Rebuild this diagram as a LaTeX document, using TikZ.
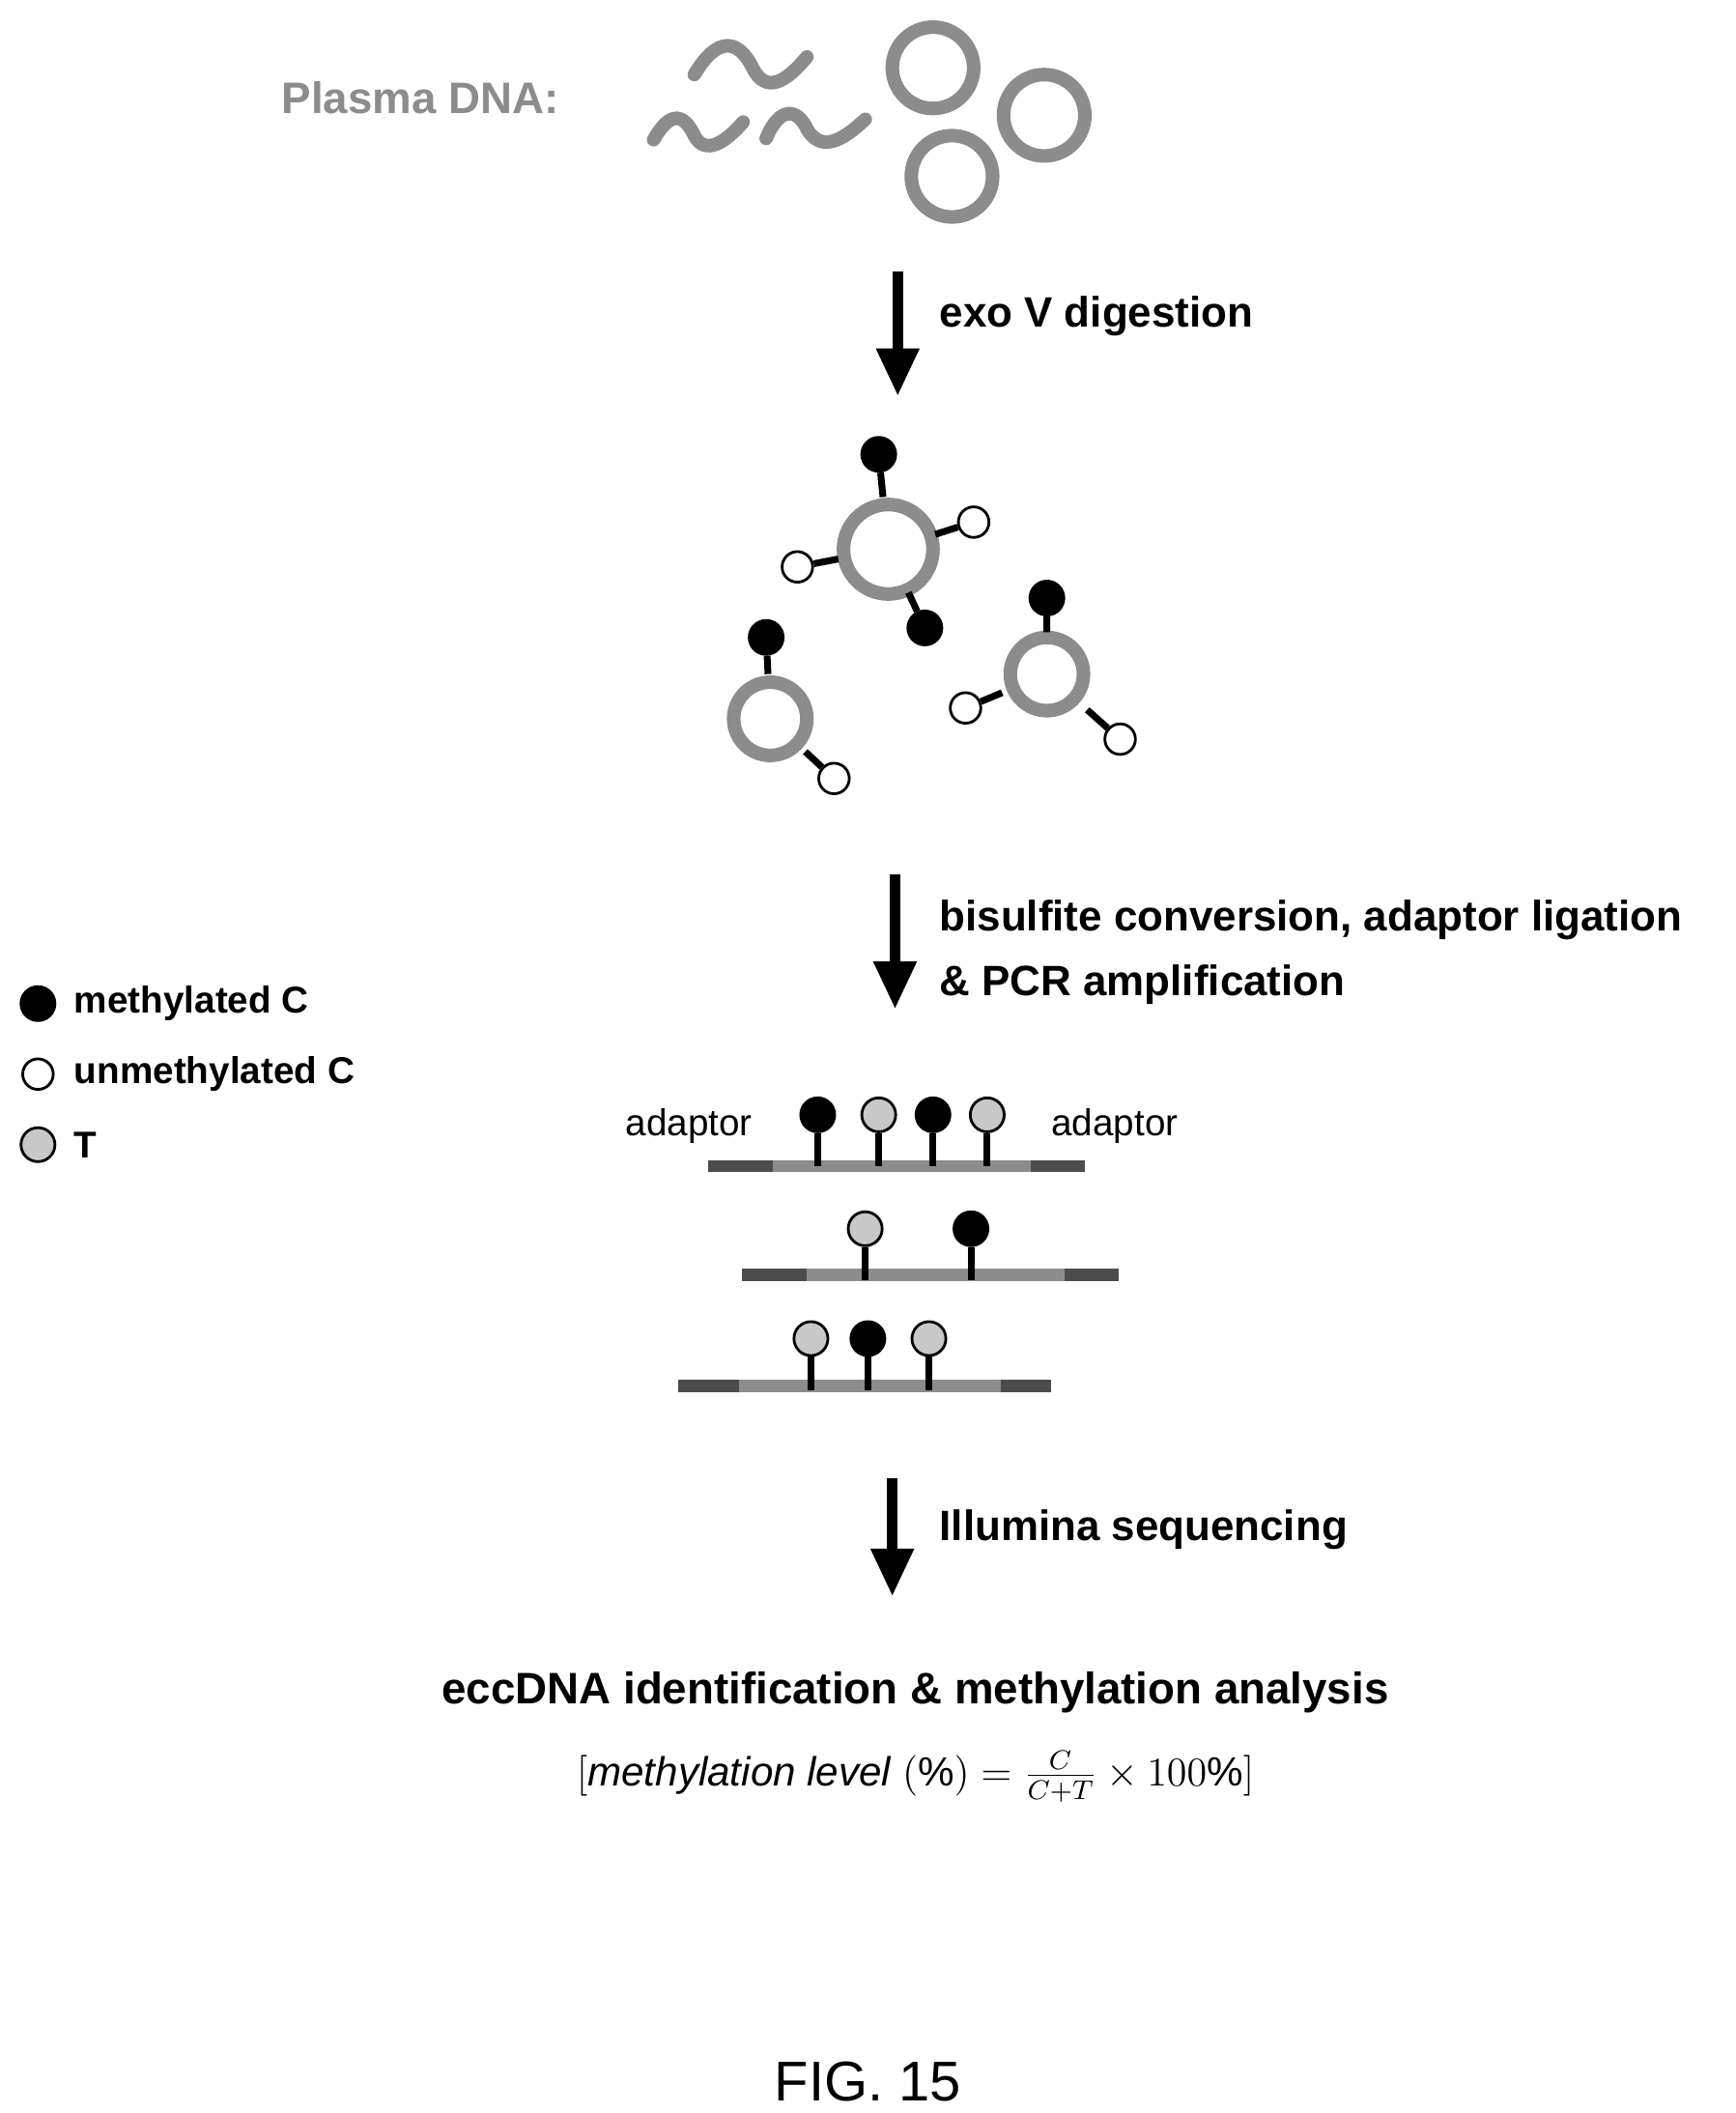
\documentclass[tikz,border=0pt]{standalone}
\usepackage{fontspec}
\setmainfont{Liberation Sans}
\usepackage{amsmath}
\usetikzlibrary{calc,arrows.meta}
\definecolor{dnagray}{RGB}{140,140,140}
\definecolor{tgray}{RGB}{200,200,200}
\begin{document}
\begin{tikzpicture}[x=0.01404cm, y=-0.01404cm, >={Triangle[length=14pt,width=12pt]},
  ring/.style={draw=dnagray, line width=4pt},
  stalk/.style={line width=2pt},
  meth/.style={circle, draw, fill=black, line width=0.8pt, minimum size=10pt, inner sep=0pt},
  unmeth/.style={circle, draw, fill=white, line width=0.8pt, minimum size=9pt, inner sep=0pt},
  tdot/.style={circle, draw, fill=tgray, line width=0.8pt, minimum size=10pt, inner sep=0pt},
  flow/.style={->, line width=3pt}]

\useasboundingbox (0,0) rectangle (1280,1558);

\node [font=\bfseries\fontsize{13}{15}\selectfont, text=dnagray] (plasma) at (310,72) {Plasma DNA:};

% linear DNA
\draw [dnagray, line width=4pt, line cap=round] (512,55) .. controls (530,25) and (545,30) .. (555,50) .. controls (565,70) and (580,60) .. (595,42);
\draw [dnagray, line width=4pt, line cap=round] (482,103) .. controls (495,80) and (505,85) .. (512,100) .. controls (520,115) and (535,105) .. (548,90);
\draw [dnagray, line width=4pt, line cap=round] (565,102) .. controls (575,78) and (588,80) .. (595,95) .. controls (605,112) and (620,105) .. (638,88);

% circular DNA
\foreach \cx/\cy [count=\i] in {688/50, 770/85, 702/130}
  \draw [ring] (\cx,\cy) circle (30) coordinate (ecc-\i);

\coordinate (arr1-a) at (662,200);
\coordinate (arr1-b) at (662,292);
\draw [flow] (arr1-a) -- (arr1-b);
\node [anchor=west, font=\bfseries\fontsize{12.5}{15}\selectfont] (exo) at (684,233) {exo V digestion};

% eccDNA with CpG sites
\foreach \cx/\cy/\r/\name in {655/405/33/big, 568/530/27/left, 772/497/27/right}
  \draw [ring] (\cx,\cy) circle (\r) coordinate (ring-\name);

\foreach \cx/\cy/\sx/\sy/\kind [count=\i] in {
    655/405/648/335/meth, 655/405/718/385/unmeth, 655/405/588/418/unmeth, 655/405/682/463/meth,
    568/530/565/470/meth, 568/530/615/574/unmeth,
    772/497/772/441/meth, 772/497/712/522/unmeth, 772/497/826/545/unmeth}
{
  \node [\kind] (site-\i) at (\sx,\sy) {};
  \draw [stalk] ($(\cx,\cy)!0.55!(\sx,\sy)$) -- (site-\i);
}

\coordinate (arr2-a) at (660,645);
\coordinate (arr2-b) at (660,744);
\draw [flow] (arr2-a) -- (arr2-b);
\node [anchor=north west, align=left, font=\bfseries\fontsize{12.5}{19}\selectfont] (bis) at (684,655)
  {bisulfite conversion, adaptor ligation\\\& PCR amplification};

% legend
\foreach \kind/\txt [count=\i] in {meth/methylated C, unmeth/unmethylated C, tdot/T}
{
  \node [\kind] (key-\i) at (28,688+\i*52) {};
  \node [anchor=west, font=\bfseries\fontsize{11}{13}\selectfont] at ($(key-\i)+(18,0)$) {\txt};
}

% reads
\foreach \x/\y/\l/\la/\rb [count=\r] in {522/860/800/570/760, 547/940/825/595/785, 500/1022/775/545/738}
{
  \draw [draw=dnagray, line width=3.5pt] (\x,\y) coordinate (read-\r-a) -- (\l,\y) coordinate (read-\r-b);
  \draw [draw=black!70, line width=3.5pt] (\x,\y) -- (\la,\y);
  \draw [draw=black!70, line width=3.5pt] (\rb,\y) -- (\l,\y);
}
\foreach \sx/\sy/\kind [count=\i] in {603/822/meth, 648/822/tdot, 688/822/meth, 728/822/tdot,
    638/906/tdot, 716/906/meth, 598/987/tdot, 640/987/meth, 685/987/tdot}
{
  \node [\kind] (cpg-\i) at (\sx,\sy) {};
  \draw [stalk] (cpg-\i) -- (\sx,\sy+38);
}
\node [font=\fontsize{11}{13}\selectfont] (adapt-l) at (508,830) {adaptor};
\node [font=\fontsize{11}{13}\selectfont] (adapt-r) at (822,830) {adaptor};

\coordinate (arr3-a) at (658,1090);
\coordinate (arr3-b) at (658,1177);
\draw [flow] (arr3-a) -- (arr3-b);
\node [anchor=west, font=\bfseries\fontsize{12.5}{15}\selectfont] (seq) at (684,1128) {Illumina sequencing};

\node [font=\bfseries\fontsize{13}{15}\selectfont] (result) at (675,1248) {eccDNA identification \& methylation analysis};
\node [font=\fontsize{12}{15}\selectfont] (formula) at (675,1310)
  {$[\mathit{methylation\ level}\ (\%) = \frac{C}{C+T} \times 100\%]$};

\node [font=\fontsize{16.5}{19}\selectfont] (fig) at (640,1535) {FIG. 15};
\end{tikzpicture}
\end{document}
